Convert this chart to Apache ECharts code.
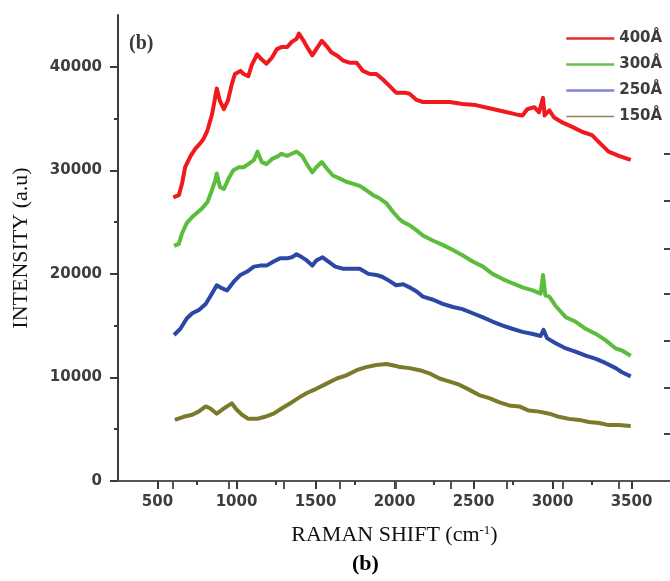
<!DOCTYPE html>
<html>
<head>
<meta charset="utf-8">
<script src="https://cdn.jsdelivr.net/npm/echarts@6/dist/echarts.min.js"></script>
<style>
html,body{margin:0;padding:0;background:#fff;}
#chart{width:670px;height:581px;}
</style>
</head>
<body>
<div id="chart"></div>
<script>
// ---- data ----
const seriesNames = ['400Å', '300Å', '250Å', '150Å'];

const x400 = [600,635,655,675,710,740,770,790,815,845,855,875,895,920,945,970,990,1025,1045,1075,1095,1130,1160,1190,1225,1255,1285,1320,1350,1380,1395,1425,1455,1480,1505,1540,1570,1600,1635,1675,1715,1760,1800,1845,1885,1925,1965,2010,2035,2065,2095,2140,2180,2265,2350,2430,2515,2600,2685,2770,2810,2840,2885,2915,2940,2950,2980,3010,3065,3125,3190,3250,3295,3355,3420,3495];
const y400 = [27400,27600,28700,30300,31400,32100,32600,33000,33800,35400,36200,37900,36700,35900,36700,38300,39300,39600,39300,39100,40100,41200,40700,40300,40900,41700,41900,41900,42400,42700,43200,42500,41700,41100,41700,42500,42000,41400,41100,40600,40400,40400,39600,39300,39300,38800,38200,37500,37500,37500,37400,36800,36600,36600,36600,36400,36300,36000,35700,35400,35300,35900,36100,35600,37000,35300,35800,35100,34600,34200,33700,33400,32700,31800,31400,31000];

const x300 = [605,635,655,685,720,750,780,815,845,865,875,895,920,950,980,1015,1045,1075,1110,1133,1160,1190,1225,1255,1285,1320,1350,1380,1415,1445,1480,1505,1540,1570,1610,1655,1695,1740,1780,1820,1865,1905,1950,1990,2030,2055,2095,2140,2180,2245,2305,2370,2430,2495,2560,2620,2685,2745,2810,2875,2925,2940,2955,2980,3020,3085,3145,3210,3275,3335,3400,3440,3495];
const y300 = [22700,22900,23900,24900,25500,25900,26300,26900,28100,29000,29700,28400,28200,29200,30000,30300,30300,30600,31000,31800,30800,30600,31100,31300,31600,31400,31600,31800,31400,30600,29800,30300,30800,30200,29500,29200,28900,28700,28500,28100,27600,27300,26800,26000,25300,25000,24700,24200,23700,23200,22800,22300,21800,21200,20700,20000,19500,19100,18700,18400,18100,19900,17900,17800,16900,15800,15400,14700,14200,13600,12800,12600,12100];

const x250 = [605,645,685,720,760,805,845,875,910,940,980,1025,1065,1110,1150,1190,1235,1275,1320,1350,1380,1415,1445,1480,1505,1545,1580,1625,1675,1730,1780,1835,1885,1925,1970,2010,2055,2095,2140,2180,2245,2305,2370,2430,2495,2560,2620,2685,2745,2810,2875,2925,2943,2965,3020,3085,3145,3210,3275,3335,3400,3440,3495];
const y250 = [14100,14700,15700,16200,16500,17100,18100,18900,18600,18400,19200,19900,20200,20700,20800,20800,21200,21500,21500,21600,21900,21600,21300,20800,21300,21600,21200,20700,20500,20500,20500,20000,19900,19700,19300,18900,19000,18700,18300,17800,17500,17100,16800,16600,16200,15800,15400,15000,14700,14400,14200,14000,14600,13800,13300,12800,12500,12100,11800,11400,10900,10500,10100];

const x150 = [610,665,720,760,805,835,875,910,940,970,1000,1035,1075,1130,1180,1235,1285,1340,1390,1445,1505,1570,1635,1695,1760,1820,1885,1950,2010,2035,2095,2160,2220,2285,2350,2410,2475,2535,2600,2665,2725,2790,2850,2915,2980,3040,3105,3170,3230,3295,3355,3420,3495];
const y150 = [5900,6200,6400,6700,7200,7000,6500,6900,7200,7500,6900,6400,6000,6000,6200,6500,7000,7500,8000,8500,8900,9400,9900,10200,10700,11000,11200,11300,11100,11000,10900,10700,10400,9900,9600,9300,8800,8300,8000,7600,7300,7200,6800,6700,6500,6200,6000,5900,5700,5600,5400,5400,5300];

// tick labels / tick marks
const xTickLabels = [500,1000,1500,2000,2500,3000,3500];
const xMinorTicks = [750,1250,1750,2250,2750,3250];
const yTickLabels = [0,10000,20000,30000,40000];
const yMinorTicks = [5000,15000,25000,35000];
const topFrameTicks = [596,948,1301,1653,2007,2357,2710,3065,3417];
const rightFrameTicks = [4540,9010,13550,18060,22470,27040,31580];

// ---- chart ----
const colors = ['#f01a1e', '#5cbd3c', '#2c47a6', '#7a7a2a'];
const legendColors = ['#ee2a2a', '#66c24a', '#7c87c9', '#8a8a55'];
const legendWidths = [2.5, 2.5, 2.5, 1.6];

function zip(xs, ys){ return xs.map((v,i)=>[v, ys[i]]); }
const seriesData = [zip(x400,y400), zip(x300,y300), zip(x250,y250), zip(x150,y150)];

const labelFont = { fontFamily: 'DejaVu Sans', fontSize: 15, fontWeight: 'bold', color: '#3d3d3d' };
const axisLineStyle = { color: '#3a3a3a', width: 2 };
const XMIN = 250, XMAX = 3750, YMIN = 0, YMAX = 45000;
const gridBox = { left: 118, top: 15, width: 553, height: 466, containLabel: false, outerBoundsMode: 'none' };
const plain = v => String(v);

const chart = echarts.init(document.getElementById('chart'), null, {renderer: 'canvas'});
chart.setOption({
  animation: false,
  backgroundColor: '#ffffff',
  grid: [ Object.assign({}, gridBox), Object.assign({}, gridBox) ],
  legend: {
    show: true,
    left: 565, top: 31, orient: 'vertical', padding: 0,
    itemWidth: 48, itemHeight: 14, itemGap: 11,
    textStyle: { fontFamily: 'DejaVu Sans', fontSize: 15, fontWeight: 'bold', color: '#3d3d3d' },
    data: seriesNames.map((n,i)=>({ name: n, lineStyle: {color: legendColors[i], width: legendWidths[i]}, itemStyle: {color: legendColors[i], opacity: 0, borderWidth: 0} }))
  },
  xAxis: [
    { gridIndex: 0, type: 'value', min: XMIN, max: XMAX, position: 'bottom',
      axisLine: { show: true, lineStyle: axisLineStyle },
      axisTick: { show: true, inside: false, length: 8, lineStyle: {color:'#3a3a3a', width: 2}, customValues: xTickLabels },
      axisLabel: Object.assign({ margin: 14, customValues: xTickLabels, formatter: plain }, labelFont),
      splitLine: { show: false },
      name: 'RAMAN SHIFT (cm{sup|-1})', nameLocation: 'middle', nameGap: 43,
      nameTextStyle: { fontFamily: 'Liberation Serif', fontSize: 22, color: '#111',
        rich: { sup: { fontFamily: 'Liberation Serif', fontSize: 13, color: '#111', verticalAlign: 'top', lineHeight: 14 } } }
    },
    { gridIndex: 0, type: 'value', min: XMIN, max: XMAX, position: 'top',
      axisLine: { show: true, lineStyle: { color: '#555', width: 2 } },
      axisTick: { show: true, inside: true, length: 8, lineStyle: {color:'#555', width: 2}, customValues: topFrameTicks },
      axisLabel: { show: false }, splitLine: { show: false } },
    { gridIndex: 1, type: 'value', min: XMIN, max: XMAX, position: 'bottom',
      axisLine: { show: false },
      axisTick: { show: true, inside: false, length: 4, lineStyle: {color:'#3a3a3a', width: 2}, customValues: xMinorTicks },
      axisLabel: { show: false }, splitLine: { show: false } }
  ],
  yAxis: [
    { gridIndex: 0, type: 'value', min: YMIN, max: YMAX, position: 'left',
      axisLine: { show: true, lineStyle: axisLineStyle },
      axisTick: { show: true, inside: false, length: 8, lineStyle: {color:'#3a3a3a', width: 2}, customValues: yTickLabels },
      axisLabel: Object.assign({ margin: 16, customValues: yTickLabels, formatter: plain }, labelFont),
      splitLine: { show: false },
      name: 'INTENSITY (a.u)', nameLocation: 'middle', nameGap: 86,
      nameTextStyle: { fontFamily: 'Liberation Serif', fontSize: 22, color: '#111' }
    },
    { gridIndex: 0, type: 'value', min: YMIN, max: YMAX, position: 'right',
      axisLine: { show: true, lineStyle: { color: '#444', width: 2 } },
      axisTick: { show: true, inside: true, length: 7, lineStyle: {color:'#444', width: 2}, customValues: rightFrameTicks },
      axisLabel: { show: false }, splitLine: { show: false } },
    { gridIndex: 1, type: 'value', min: YMIN, max: YMAX, position: 'left',
      axisLine: { show: false },
      axisTick: { show: true, inside: false, length: 4, lineStyle: {color:'#3a3a3a', width: 2}, customValues: yMinorTicks },
      axisLabel: { show: false }, splitLine: { show: false } }
  ],
  graphic: [
    { type: 'text', left: 129, top: 34, style: { text: '(b)', font: 'bold 20px "Liberation Serif"', fill: '#3a3a3a' } },
    { type: 'text', left: 352, top: 553, style: { text: '(b)', font: 'bold 22px "Liberation Serif"', fill: '#000' } }
  ],
  series: seriesNames.map((n,i)=>({
    name: n, type: 'line', xAxisIndex: 0, yAxisIndex: 0,
    data: seriesData[i], symbol: 'none', showSymbol: false, smooth: false,
    lineStyle: { color: colors[i], width: 4, join: 'round' },
    itemStyle: { color: colors[i] }
  }))
});
</script>
</body>
</html>
